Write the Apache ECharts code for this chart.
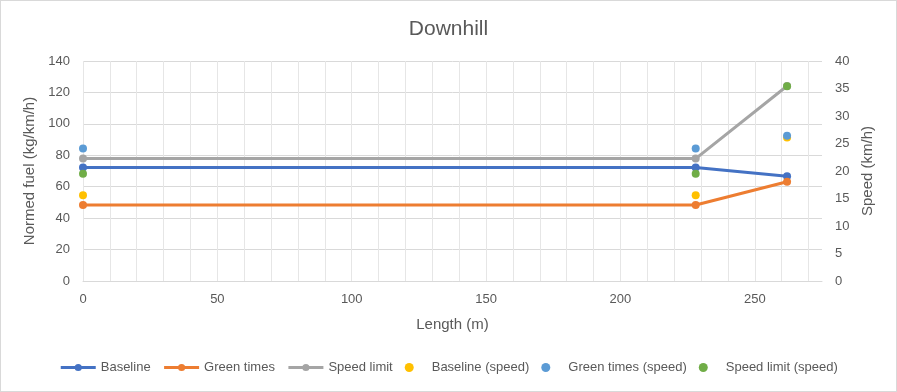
<!DOCTYPE html>
<html>
<head>
<meta charset="utf-8">
<script src="https://cdn.jsdelivr.net/npm/echarts@6/dist/echarts.min.js"></script>
<style>
  html, body { margin: 0; padding: 0; background: #fff; }
  #chart { width: 895px; height: 390px; border: 1px solid #D9D9D9; }
</style>
</head>
<body>
<div id="chart"></div>
<script>
const lengths = [0, 228, 262];
const baselineFuel = [72.2, 72.2, 66.6];
const greenTimesFuel = [48.4, 48.4, 63.2];
const speedLimitFuel = [77.9, 77.9, 124.1];
const baselineSpeed = [15.6, 15.6, 26.1];
const greenTimesSpeed = [24.1, 24.1, 26.4];
const speedLimitSpeed = [19.5, 19.5, 35.4];
const seriesNames = ['Baseline', 'Green times', 'Speed limit', 'Baseline (speed)', 'Green times (speed)', 'Speed limit (speed)'];
const colors = ['#4472C4', '#ED7D31', '#A5A5A5', '#FFC000', '#5B9BD5', '#70AD47'];

const pairs = arr => lengths.map((x, i) => [x, arr[i]]);
const txt = '#595959';
const font = 'Liberation Sans, Arial, sans-serif';

const chart = echarts.init(document.getElementById('chart'), null, { renderer: 'canvas' });

function lineSeries(name, data, color) {
  return {
    name, type: 'line', xAxisIndex: 0, yAxisIndex: 0, data: pairs(data),
    symbol: 'circle', symbolSize: 8, showSymbol: true,
    lineStyle: { color, width: 3 }, itemStyle: { color },
    animation: false, z: 2
  };
}
function scatterSeries(name, data, color) {
  return {
    name, type: 'scatter', xAxisIndex: 0, yAxisIndex: 1, data: pairs(data),
    symbol: 'circle', symbolSize: 8, itemStyle: { color, opacity: 1 },
    animation: false, z: 3
  };
}

chart.setOption({
  animation: false,
  color: colors,
  textStyle: { fontFamily: font },
  title: {
    text: 'Downhill', left: 'center', top: 13,
    textStyle: { color: txt, fontSize: 21, fontWeight: 'normal', fontFamily: font }
  },
  legend: {
    bottom: 12, left: 'center', itemWidth: 35, itemHeight: 9, itemGap: 12,
    lineStyle: { width: 3 },
    textStyle: { color: txt, fontSize: 13, fontFamily: font },
    data: seriesNames.map((n, i) => i < 3
      ? { name: n }
      : { name: n, icon: 'circle' })
  },
  grid: { left: 82, right: 74, top: 60, bottom: 110, containLabel: false },
  xAxis: [
    {
      type: 'value', min: 0, max: 275, interval: 50,
      name: 'Length (m)', nameLocation: 'middle', nameGap: 36,
      nameTextStyle: { color: txt, fontSize: 15, fontFamily: font },
      axisLine: { show: true, lineStyle: { color: '#D9D9D9' } },
      axisTick: { show: false },
      axisLabel: { color: txt, fontSize: 13, margin: 12, showMaxLabel: false, fontFamily: font },
      splitLine: { show: false }
    },
    {
      type: 'value', min: 0, max: 275, interval: 10, position: 'top',
      axisLine: { show: false }, axisTick: { show: false }, axisLabel: { show: false },
      splitLine: { show: true, showMaxLine: false, lineStyle: { color: '#E6E6E6', width: 1 } }
    }
  ],
  yAxis: [
    {
      type: 'value', min: 0, max: 140, interval: 20, position: 'left',
      name: 'Normed fuel (kg/km/h)', nameLocation: 'middle', nameGap: 41,
      nameTextStyle: { color: txt, fontSize: 15, fontFamily: font },
      axisLine: { show: false }, axisTick: { show: false },
      axisLabel: { color: txt, fontSize: 13, margin: 13, fontFamily: font },
      splitLine: { show: true, lineStyle: { color: '#D9D9D9', width: 1 } }
    },
    {
      type: 'value', min: 0, max: 40, interval: 5, position: 'right',
      name: 'Speed (km/h)', nameLocation: 'middle', nameGap: 32,
      nameTextStyle: { color: txt, fontSize: 15, fontFamily: font },
      axisLine: { show: false }, axisTick: { show: false },
      axisLabel: { color: txt, fontSize: 13, margin: 13, fontFamily: font },
      splitLine: { show: false }
    }
  ],
  series: [
    lineSeries(seriesNames[0], baselineFuel, colors[0]),
    lineSeries(seriesNames[1], greenTimesFuel, colors[1]),
    lineSeries(seriesNames[2], speedLimitFuel, colors[2]),
    scatterSeries(seriesNames[3], baselineSpeed, colors[3]),
    scatterSeries(seriesNames[4], greenTimesSpeed, colors[4]),
    scatterSeries(seriesNames[5], speedLimitSpeed, colors[5])
  ]
});
</script>
</body>
</html>
